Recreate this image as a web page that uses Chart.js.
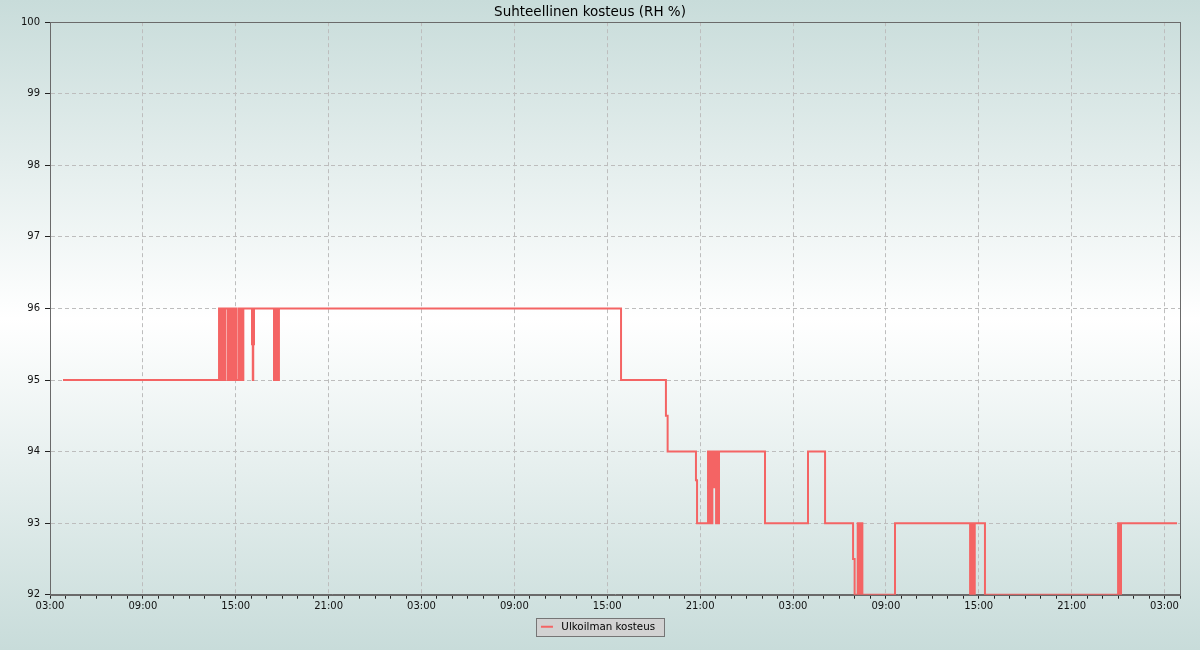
<!DOCTYPE html>
<html>
<head>
<meta charset="utf-8">
<script src="https://cdn.jsdelivr.net/npm/chart.js@4/dist/chart.umd.min.js"></script>
<style>
html,body{margin:0;padding:0;}
body{width:1200px;height:650px;overflow:hidden;
background:linear-gradient(to bottom,#c8dcda 0%,#ffffff 49%,#c8dcda 100%);}
canvas{display:block;}
</style>
</head>
<body>
<canvas id="c" width="1200" height="650"></canvas>
<script>
// Hours since 03:00 on day 1, and relative humidity (%) starting at that time (step data)
const hours = [
  0.84,
  10.92, 10.99, 11.06, 11.13, 11.20, 11.27, 11.34,
  11.50, 11.57, 11.64, 11.71, 11.78, 11.85, 11.92, 11.99, 12.06,
  12.21, 12.28, 12.35, 12.42, 12.49,
  13.05, 13.10, 13.13, 13.18,
  14.47, 14.54, 14.61, 14.68, 14.75, 14.79,
  36.89,
  39.79, 39.90,
  41.73, 41.80,
  42.51, 42.58, 42.65, 42.72, 42.79, 42.86, 42.92, 43.03, 43.10, 43.17, 43.22,
  46.19,
  48.97,
  50.07,
  51.88, 51.98,
  52.18, 52.24, 52.30, 52.36, 52.42, 52.48,
  54.59,
  59.44, 59.50, 59.56, 59.62, 59.68, 59.74,
  60.40,
  69.00, 69.05, 69.10, 69.15, 69.19,
  72.81
];
const rh = [
  95,
  96, 95, 96, 95, 96, 95, 96,
  95, 96, 95, 96, 95, 96, 95, 96, 95,
  96, 95, 96, 95, 96,
  95.5, 95, 95.5, 96,
  95, 96, 95, 96, 95, 96,
  95,
  94.5, 94,
  93.6, 93,
  94, 93, 94, 93, 94, 93.5, 94, 93, 94, 93, 94,
  93,
  94,
  93,
  92.5, 92,
  93, 92, 93, 92, 93, 92,
  93,
  92, 93, 92, 93, 92, 93,
  92,
  93, 92, 93, 92, 93,
  93
];
const tickLabels = ['03:00','09:00','15:00','21:00','03:00','09:00','15:00','21:00','03:00','09:00','15:00','21:00','03:00'];
const seriesName = 'Ulkoilman kosteus';
const chartTitle = 'Suhteellinen kosteus (RH %)';
const xMin = 0, xMax = 73, yMin = 92, yMax = 100;

const red = '#f46464';
const gridCol = '#bdbdbd';
const frameCol = '#6a6a6a';
const FONT = 'DejaVu Sans';

const points = hours.map((h, i) => ({x: h, y: rh[i]}));

const decor = {
  id: 'decor',
  afterLayout(chart) {
    const lg = chart.legend;
    if (lg) { lg.left += 8; lg.right += 8; }
  },
  beforeDraw(chart) {
    const lg = chart.legend;
    if (lg && lg.legendHitBoxes && lg.legendHitBoxes.length) {
      const hb = lg.legendHitBoxes[0];
      const ctx = chart.ctx;
      ctx.save();
      ctx.fillStyle = '#d2d2d2';
      ctx.strokeStyle = '#757575';
      ctx.lineWidth = 1;
      const l = Math.round(hb.left - 5) + 0.5, t = Math.round(hb.top - 4) + 0.5;
      const w = Math.round(hb.width + 14), h = Math.round(hb.height + 8);
      ctx.fillRect(l, t, w, h);
      ctx.strokeRect(l, t, w, h);
      ctx.restore();
    }
  },
  afterDraw(chart) {
    const a = chart.chartArea, ctx = chart.ctx;
    ctx.save();
    ctx.strokeStyle = frameCol;
    ctx.lineWidth = 1;
    ctx.strokeRect(Math.round(a.left) + 0.5, Math.round(a.top) + 0.5,
                   Math.round(a.right - a.left), Math.round(a.bottom - a.top));
    ctx.restore();
  }
};

new Chart(document.getElementById('c'), {
  type: 'line',
  data: {
    datasets: [{
      label: seriesName,
      data: points,
      stepped: true,
      borderColor: red,
      backgroundColor: red,
      borderWidth: 2,
      pointRadius: 0,
      fill: false,
      tension: 0
    }]
  },
  options: {
    responsive: false,
    animation: false,
    devicePixelRatio: 1,
    layout: {padding: {left: 0, right: 20, top: 0, bottom: 8}},
    plugins: {
      title: {
        display: true,
        text: chartTitle,
        color: '#000',
        font: {family: FONT, size: 13.5, weight: 'normal'},
        padding: {top: 4, bottom: 2}
      },
      legend: {
        display: true,
        position: 'bottom',
        labels: {
          color: '#000',
          font: {family: FONT, size: 10.3},
          boxWidth: 12,
          boxHeight: 2,
          padding: 6,
          generateLabels(chart) {
            return chart.data.datasets.map((d, i) => ({
              text: ' ' + d.label, fillStyle: d.borderColor, strokeStyle: d.borderColor,
              lineWidth: 0, hidden: false, datasetIndex: i, fontColor: '#000'
            }));
          }
        }
      },
      tooltip: {enabled: false}
    },
    scales: {
      x: {
        type: 'linear',
        min: xMin, max: xMax,
        afterFit(s) { s.height = 21; },
        ticks: {
          stepSize: 1,
          autoSkip: false,
          maxRotation: 0, minRotation: 0,
          padding: 2,
          color: '#111',
          font: {family: FONT, size: 10},
          callback(v) { return (v % 6 === 0) ? (tickLabels[v / 6] || '') : ''; }
        },
        grid: {
          color(ctx) { return (ctx.tick && ctx.tick.value % 6 === 0) ? gridCol : 'rgba(0,0,0,0)'; },
          lineWidth: 1,
          tickLength: 4,
          tickColor: '#222',
          drawTicks: true
        },
        border: {display: true, color: frameCol, dash: [4, 3]}
      },
      y: {
        min: yMin, max: yMax,
        afterFit(s) { s.width = 50; },
        ticks: {
          stepSize: 1,
          padding: 5,
          color: '#111',
          font: {family: FONT, size: 10}
        },
        grid: {
          color: gridCol,
          lineWidth: 1,
          tickLength: 5,
          tickColor: '#222'
        },
        border: {display: true, color: frameCol, dash: [4, 3]}
      }
    }
  },
  plugins: [decor]
});
</script>
</body>
</html>
